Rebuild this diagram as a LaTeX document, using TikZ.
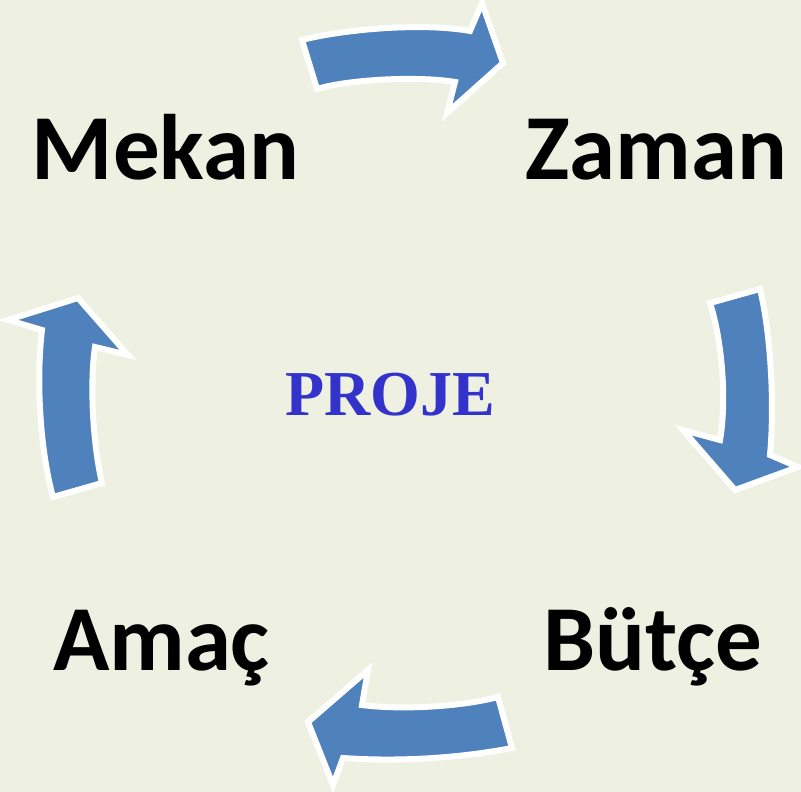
\documentclass[tikz,border=0pt]{standalone}
\usepackage{fontspec}
\setmainfont{Carlito}
\newfontfamily\projefont{Liberation Serif}
\definecolor{bgcol}{RGB}{238,240,226}
\definecolor{arrowblue}{RGB}{79,129,189}
\definecolor{projeblue}{RGB}{51,51,204}
\tikzset{
  blockarrow/.style={fill=arrowblue, draw=white, line width=6pt, line join=miter},
  label/.style={font=\fontsize{93}{93}\selectfont\bfseries, text=black, inner sep=0pt, anchor=base},
  center/.style={font=\projefont\fontsize{64}{64}\selectfont\bfseries, text=projeblue, inner sep=0pt, anchor=base}
}
\begin{document}
\begin{tikzpicture}[x=1pt,y=-1pt]
\fill[bgcol] (0,0) rectangle (801,792);
\useasboundingbox (0,0) rectangle (801,792);
% top arrow
\draw[blockarrow] (302,40) .. controls (340,30) and (420,22) .. (470,31)
  -- (482,3) -- (503,63) -- (447,113) -- (455,82)
  .. controls (420,76) and (350,79) .. (317,89) -- cycle;
% right arrow
\draw[blockarrow] (710,303) -- (760,289) .. controls (770,330) and (775,400) .. (770,455)
  -- (798,467) -- (735,490) -- (683,430) -- (720,440)
  .. controls (727,400) and (722,340) .. (710,303) -- cycle;
% bottom arrow
\draw[blockarrow] (498,697) .. controls (460,707) and (400,710) .. (362,705)
  -- (368,670) -- (308,722) -- (333,785) -- (343,758)
  .. controls (400,762) and (460,758) .. (512,748) -- cycle;
% left arrow
\draw[blockarrow] (53,497) -- (102,483) .. controls (92,440) and (90,380) .. (95,347)
  -- (128,355) -- (78,298) -- (8,320) -- (42,330)
  .. controls (36,380) and (40,450) .. (53,497) -- cycle;
% labels
\node[label] (mekan) at (165.5,179) {Mekan};
\node[label] (zaman) at (656.5,179) {Zaman};
\node[label] (amac) at (161.5,670) {Amaç};
\node[label] (butce) at (652.5,670) {Bütçe};
\node[center] (proje) at (390,415) {PROJE};
\end{tikzpicture}
\end{document}
